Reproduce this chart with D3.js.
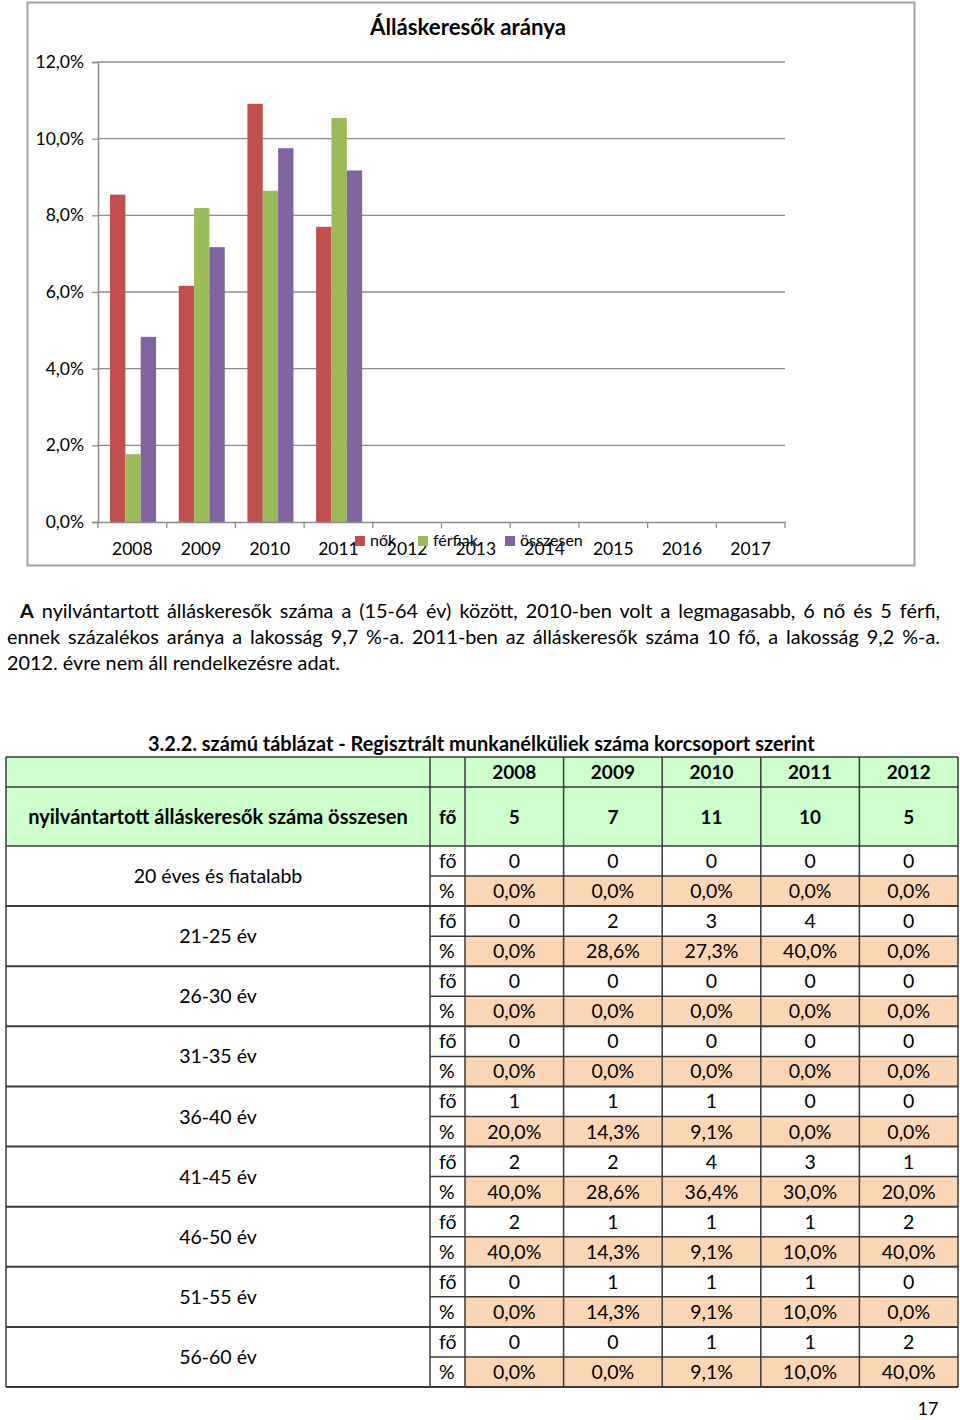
<!DOCTYPE html>
<html>
<head>
<meta charset="utf-8">
<script src="https://cdn.jsdelivr.net/npm/d3@7"></script>
<style>
  html, body { margin: 0; padding: 0; background: #fff; }
  svg { display: block; }
  text { font-family: "Lato", "Open Sans", "DejaVu Sans", sans-serif; fill: #000; }
</style>
</head>
<body>
<svg id="page" width="960" height="1420"></svg>
<script>
// ---------------- DATA ----------------
const chartTitle = "Álláskeresők aránya";
const chartYears = ["2008","2009","2010","2011","2012","2013","2014","2015","2016","2017"];
const seriesNames = ["nők","férfiak","összesen"];
const nokValues      = [0.0854, 0.0616, 0.1091, 0.0770, null, null, null, null, null, null];
const ferfiakValues  = [0.0177, 0.0819, 0.0864, 0.1054, null, null, null, null, null, null];
const osszesenValues = [0.0483, 0.0717, 0.0975, 0.0917, null, null, null, null, null, null];
const yTicks = [0, 0.02, 0.04, 0.06, 0.08, 0.10, 0.12];
const seriesColors = ["#c0504d", "#9bbb59", "#8064a2"];

const paragraphLines = [
  ["A", " nyilvántartott álláskeresők száma a (15-64 év) között, 2010-ben volt a legmagasabb, 6 nő és 5 férfi,"],
  ["", "ennek százalékos aránya a lakosság 9,7 %-a. 2011-ben az álláskeresők száma 10 fő, a lakosság 9,2 %-a."],
  ["", "2012. évre nem áll rendelkezésre adat."]
];

const tableCaption = "3.2.2. számú táblázat - Regisztrált munkanélküliek száma korcsoport szerint";
const tableYears = ["2008","2009","2010","2011","2012"];
const totalLabel = "nyilvántartott álláskeresők száma összesen";
const totalUnit = "fő";
const totalValues = [5, 7, 11, 10, 5];
const ageGroups = ["20 éves és fiatalabb","21-25 év","26-30 év","31-35 év","36-40 év","41-45 év","46-50 év","51-55 év","56-60 év"];
const ageCounts = [
  [0,0,0,0,0],
  [0,2,3,4,0],
  [0,0,0,0,0],
  [0,0,0,0,0],
  [1,1,1,0,0],
  [2,2,4,3,1],
  [2,1,1,1,2],
  [0,1,1,1,0],
  [0,0,1,1,2]
];
const agePercents = [
  [0,0,0,0,0],
  [0,28.6,27.3,40.0,0],
  [0,0,0,0,0],
  [0,0,0,0,0],
  [20.0,14.3,9.1,0,0],
  [40.0,28.6,36.4,30.0,20.0],
  [40.0,14.3,9.1,10.0,40.0],
  [0,14.3,9.1,10.0,0],
  [0,0,9.1,10.0,40.0]
];
const pageNumber = "17";

// ---------------- HELPERS ----------------
const svg = d3.select("#page");
const fmtPct1 = v => d3.format(".1f")(v).replace(".", ",") + "%";
const fmtAxis = v => d3.format(".1f")(v * 100).replace(".", ",") + "%";
function fitWidth(sel, target) {
  const node = sel.node();
  const fs = parseFloat(sel.attr("font-size"));
  const w = node.getComputedTextLength();
  if (w > 0) sel.attr("font-size", (fs * target / w).toFixed(2));
  return sel;
}

// ---------------- CHART ----------------
const chart = svg.append("g");
chart.append("rect")
  .attr("x", 27.5).attr("y", 2.5).attr("width", 887).attr("height", 563)
  .attr("fill", "#fff").attr("stroke", "#a0a0a0").attr("stroke-width", 2);

const plot = { left: 98, right: 785, top: 62, bottom: 522 };
const x0 = d3.scaleBand().domain(chartYears).range([plot.left, plot.right]).padding(0);
const x1 = d3.scaleBand().domain(seriesNames)
  .range([x0.bandwidth() * 0.175, x0.bandwidth() * 0.845]).padding(0);
const y = d3.scaleLinear().domain([0, 0.12]).range([plot.bottom, plot.top]);

// gridlines
chart.append("g").selectAll("line").data(yTicks.filter(d => d > 0)).join("line")
  .attr("x1", plot.left).attr("x2", plot.right)
  .attr("y1", d => y(d)).attr("y2", d => y(d))
  .attr("stroke", "#8c8c8c").attr("stroke-width", 1.3);

// y axis
const yAxis = chart.append("g").attr("transform", `translate(${plot.left},0)`)
  .call(d3.axisLeft(y).tickValues(yTicks).tickFormat(fmtAxis).tickSize(6).tickPadding(8));
yAxis.select(".domain").attr("stroke", "#8c8c8c").attr("stroke-width", 1.5);
yAxis.selectAll(".tick line").attr("stroke", "#8c8c8c").attr("stroke-width", 1.3);
yAxis.selectAll(".tick text").attr("font-size", 17.5).attr("font-family", "Lato, sans-serif").attr("fill", "#000");

// bars
const seriesData = [nokValues, ferfiakValues, osszesenValues];
const barsG = chart.append("g");
seriesNames.forEach((s, si) => {
  barsG.append("g").selectAll("rect")
    .data(chartYears.map((yr, i) => ({ yr, v: seriesData[si][i] })).filter(d => d.v != null))
    .join("rect")
    .attr("x", d => x0(d.yr) + x1(s))
    .attr("width", x1.bandwidth())
    .attr("y", d => y(d.v))
    .attr("height", d => y(0) - y(d.v))
    .attr("fill", seriesColors[si]);
});

// x axis
const xAxis = chart.append("g").attr("transform", `translate(0,${plot.bottom})`)
  .call(d3.axisBottom(x0).tickSize(0).tickPadding(21));
xAxis.select(".domain").attr("stroke", "#8c8c8c").attr("stroke-width", 1.5);
xAxis.selectAll(".tick text").attr("font-size", 17.5).attr("font-family", "Lato, sans-serif").attr("fill", "#000");
// category boundary tick marks
chart.append("g").selectAll("line")
  .data(chartYears.map(d => x0(d)).concat([x0(chartYears[chartYears.length - 1]) + x0.bandwidth()]))
  .join("line")
  .attr("x1", d => d).attr("x2", d => d)
  .attr("y1", plot.bottom).attr("y2", plot.bottom + 6)
  .attr("stroke", "#8c8c8c").attr("stroke-width", 1.3);

// title
fitWidth(chart.append("text").attr("x", 468).attr("y", 35).attr("text-anchor", "middle")
  .attr("font-size", 20).attr("font-weight", "bold").text(chartTitle), 196);

// legend (overlapping the axis labels as in the original)
const legendX = [355, 418, 505];
const legend = chart.append("g");
seriesNames.forEach((s, i) => {
  legend.append("rect").attr("x", legendX[i]).attr("y", 536).attr("width", 10).attr("height", 10)
    .attr("fill", seriesColors[i]);
  legend.append("text").attr("x", legendX[i] + 15).attr("y", 546).attr("font-size", 16).text(s);
});

// ---------------- PARAGRAPH ----------------
const para = svg.append("g");
const paraY = [618, 644, 670];
const paraLeft = [20, 7, 7];
const paraRight = 940;
// size font from the last (unjustified) line
const probe = para.append("text").attr("x", 7).attr("y", 670).attr("font-size", 17).text(paragraphLines[2][1]);
fitWidth(probe, 333);
const paraFS = parseFloat(probe.attr("font-size"));
probe.remove();
paragraphLines.forEach((ln, i) => {
  const t = para.append("text").attr("x", paraLeft[i]).attr("y", paraY[i]).attr("font-size", paraFS);
  if (ln[0]) t.append("tspan").attr("font-weight", "bold").text(ln[0]);
  t.append("tspan").text(ln[1]);
  if (i < 2) {
    const w = t.node().getComputedTextLength();
    const spaces = ((ln[0] + ln[1]).match(/ /g) || []).length;
    const ws = (paraRight - paraLeft[i] - w) / spaces;
    t.attr("word-spacing", ws.toFixed(3));
  }
});

// ---------------- TABLE ----------------
const tbl = svg.append("g");
const yearX = d3.scaleBand().domain(tableYears).range([465, 958]).padding(0);
const hdrTop = 757, hdrMid = 787, hdrBot = 846;
const groupY = d3.scaleBand().domain(ageGroups).range([hdrBot, 1387]).padding(0);
const subY = d3.scaleBand().domain(["fő", "%"]).range([0, groupY.bandwidth()]).padding(0);
const borderCol = "#3a3a3a";
const bodyFS = 19.5;

// caption
fitWidth(tbl.append("text").attr("x", 148).attr("y", 751).attr("font-size", 18).attr("font-weight", "bold")
  .text(tableCaption), 667);

// header fills
tbl.append("rect").attr("x", 6).attr("y", hdrTop).attr("width", 952).attr("height", hdrBot - hdrTop).attr("fill", "#ccffcc");
// percent cell fills
ageGroups.forEach(g => {
  tbl.append("g").selectAll("rect").data(tableYears).join("rect")
    .attr("x", d => yearX(d)).attr("width", yearX.bandwidth())
    .attr("y", groupY(g) + subY("%")).attr("height", subY.bandwidth())
    .attr("fill", "#fcd5b4");
});

// header texts
tbl.append("g").selectAll("text").data(tableYears).join("text")
  .attr("x", d => yearX(d) + yearX.bandwidth() / 2).attr("y", 779)
  .attr("text-anchor", "middle").attr("font-size", 19).attr("font-weight", "bold").text(d => d);
fitWidth(tbl.append("text").attr("x", 218).attr("y", 824).attr("text-anchor", "middle")
  .attr("font-size", 18).attr("font-weight", "bold").text(totalLabel), 380);
tbl.append("text").attr("x", 439).attr("y", 824).attr("font-size", 19).attr("font-weight", "bold").text(totalUnit);
tbl.append("g").selectAll("text").data(totalValues).join("text")
  .attr("x", (d, i) => yearX(tableYears[i]) + yearX.bandwidth() / 2).attr("y", 824)
  .attr("text-anchor", "middle").attr("font-size", 19).attr("font-weight", "bold").text(d => d);

// body texts
ageGroups.forEach((g, gi) => {
  const gy = groupY(g);
  tbl.append("text").attr("x", 218).attr("y", gy + groupY.bandwidth() / 2 + 7)
    .attr("text-anchor", "middle").attr("font-size", bodyFS).text(g);
  ["fő", "%"].forEach(u => {
    tbl.append("text").attr("x", 439).attr("y", gy + subY(u) + 22).attr("font-size", bodyFS).text(u);
  });
  tbl.append("g").selectAll("text").data(ageCounts[gi]).join("text")
    .attr("x", (d, i) => yearX(tableYears[i]) + yearX.bandwidth() / 2)
    .attr("y", gy + subY("fő") + 22).attr("text-anchor", "middle").attr("font-size", bodyFS).text(d => d);
  tbl.append("g").selectAll("text").data(agePercents[gi]).join("text")
    .attr("x", (d, i) => yearX(tableYears[i]) + yearX.bandwidth() / 2)
    .attr("y", gy + subY("%") + 22).attr("text-anchor", "middle").attr("font-size", bodyFS).text(d => fmtPct1(d));
});

// borders
const lines = tbl.append("g").attr("stroke", borderCol).attr("stroke-width", 1.5);
[hdrTop, hdrMid, hdrBot].forEach(yy => lines.append("line").attr("x1", 6).attr("x2", 958).attr("y1", yy).attr("y2", yy));
const vxAll = [430, 465].concat(tableYears.map(d => yearX(d) + yearX.bandwidth()));
vxAll.forEach(xx => lines.append("line").attr("x1", xx).attr("x2", xx).attr("y1", hdrTop).attr("y2", 1387));
lines.append("line").attr("x1", 6).attr("x2", 6).attr("y1", hdrTop).attr("y2", 1387);
ageGroups.forEach(g => {
  const gy = groupY(g);
  lines.append("line").attr("x1", 6).attr("x2", 958).attr("y1", gy + groupY.bandwidth()).attr("y2", gy + groupY.bandwidth())
    .attr("stroke-width", 2);
  lines.append("line").attr("x1", 430).attr("x2", 958).attr("y1", gy + subY("%")).attr("y2", gy + subY("%"));
});

// page number
svg.append("text").attr("x", 928).attr("y", 1415).attr("text-anchor", "middle").attr("font-size", 18).text(pageNumber);
</script>
</body>
</html>
